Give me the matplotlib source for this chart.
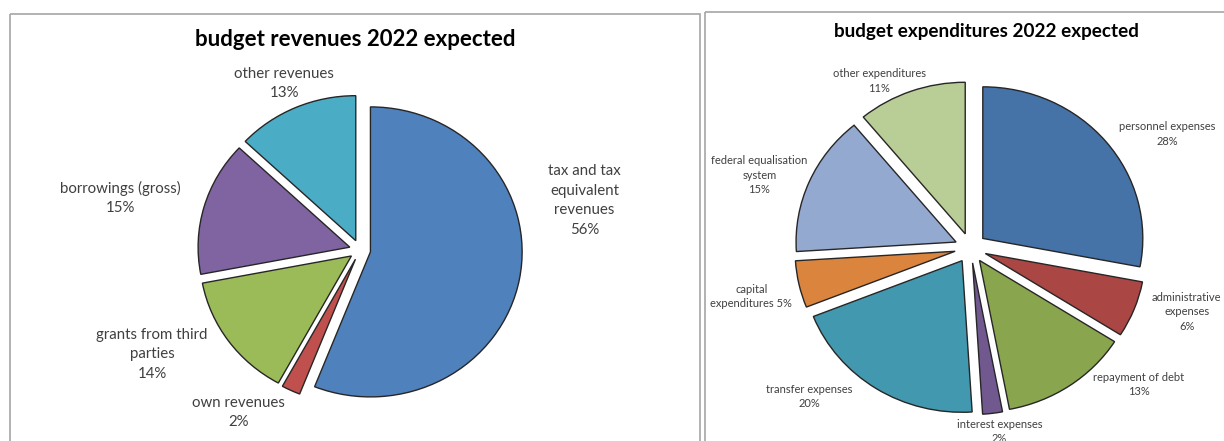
import matplotlib
matplotlib.use("Agg")
import matplotlib.pyplot as plt
from matplotlib.patches import Rectangle

# data
rev_labels = ["tax and tax\nequivalent\nrevenues", "own revenues", "grants from third\nparties",
              "borrowings (gross)", "other revenues"]
rev_values = [56, 2, 14, 15, 13]
rev_colors = ["#4F81BD", "#C0504D", "#9BBB59", "#8064A2", "#4BACC6"]

exp_labels = ["personnel expenses", "administrative\nexpenses", "repayment of debt", "interest expenses",
              "transfer expenses", "capital\nexpenditures", "federal equalisation\nsystem", "other expenditures"]
exp_values = [28, 6, 13, 2, 20, 5, 15, 11]
exp_colors = ["#4572A7", "#AA4643", "#89A54E", "#71588F", "#4198AF", "#DB843D", "#93A9CF", "#B9CD96"]

# label positions in pie radius units (layout)
rev_label_pos = [(1.48, 0.34), (-0.80, -1.12), (-1.37, -0.72), (-1.58, 0.36), (-0.50, 1.15)]
exp_label_pos = [(1.23, 0.75), (1.35, -0.42), (1.05, -0.90), (0.18, -1.21),
                 (-1.01, -0.98), (-1.37, -0.32), (-1.32, 0.48), (-0.57, 1.10)]

W, H = 1224, 441
plt.rcParams['font.family'] = ['Lato', 'DejaVu Sans']
fig = plt.figure(figsize=(W / 100, H / 100), dpi=100)
fig.patch.set_facecolor('white')

# background: panel frames and titles, in pixel coordinates
bg = fig.add_axes([0, 0, 1, 1])
bg.set_xlim(0, W)
bg.set_ylim(H, 0)
bg.axis('off')
bg.add_patch(Rectangle((9.5, 14), 690.5, 440, fill=False, edgecolor='#A6A6A6', lw=1.2))
bg.add_patch(Rectangle((705, 12), 530, 440, fill=False, edgecolor='#A6A6A6', lw=1.2))
bg.text(355, 39, "budget revenues 2022 expected", ha='center', va='center',
        fontsize=16, fontweight='bold', color='black')
bg.text(986, 32, "budget expenditures 2022 expected", ha='center', va='center',
        fontsize=13.6, fontweight='bold', color='black')


def draw_pie(values, labels, colors, label_pos, explode, cx, cy, rx, ry, fsize, lsp):
    ax = fig.add_axes([0, 0, 1, 1])
    wedges, texts, autotexts = ax.pie(
        values, explode=[explode] * len(values), colors=colors, labels=labels,
        startangle=90, counterclock=False, autopct='%d%%',
        wedgeprops=dict(edgecolor='#262626', linewidth=1.0),
        textprops=dict(fontsize=fsize, color='#404040'))
    for t, a, v, (x, y) in zip(texts, autotexts, values, label_pos):
        t.set_text(t.get_text() + "\n" + a.get_text())
        t.set_position((x, y))
        t.set_ha('center')
        t.set_va('center')
        t.set_multialignment('center')
        t.set_linespacing(lsp)
        a.set_visible(False)
    ax.set_aspect('auto')
    ax.set_xlim((0 - cx) / rx, (W - cx) / rx)
    ax.set_ylim((cy - H) / ry, cy / ry)
    ax.axis('off')
    return ax


ax1 = draw_pie(rev_values, rev_labels, rev_colors, rev_label_pos, 0.07, 360, 250, 151.7, 145, 10.8, 1.5)
ax2 = draw_pie(exp_values, exp_labels, exp_colors, exp_label_pos, 0.099, 970.6, 248, 160, 151.6, 8, 1.4)

# capital label shares one line with its percentage
for t in ax2.texts:
    if t.get_text().startswith("capital"):
        t.set_text("capital\nexpenditures 5%")

fig.savefig("out.png", dpi=100)
